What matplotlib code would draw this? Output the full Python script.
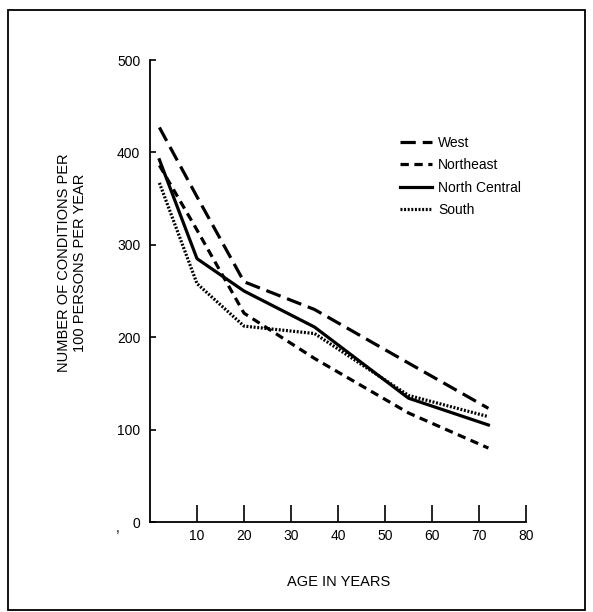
import matplotlib
matplotlib.use("Agg")
import matplotlib.pyplot as plt
from matplotlib.patches import Rectangle

plt.rcParams['font.family'] = ['Liberation Sans', 'DejaVu Sans']
plt.rcParams['lines.scale_dashes'] = False

# Data (age midpoints, conditions per 100 persons per year)
ages = [2, 10, 20, 35, 55, 72]
west = [427, 352, 260, 230, 172, 123]
northeast = [386, 316, 226, 177, 118, 80]
north_central = [392, 285, 250, 211, 134, 105]
south = [367, 258, 212, 204, 137, 114]

x_ticks = [10, 20, 30, 40, 50, 60, 70, 80]
y_ticks = [0, 100, 200, 300, 400, 500]

W, H = 593, 612
fig = plt.figure(figsize=(W / 100, H / 100), dpi=100)
ax = fig.add_axes([150 / W, 1 - 522 / H, (526 - 150) / W, (522 - 60) / H])

lw = 2.3
ax.plot(ages, west, color='black', lw=lw, linestyle=(0, (11, 5)), label='West')
ax.plot(ages, northeast, color='black', lw=lw, linestyle=(0, (6, 4)), label='Northeast')
ax.plot(ages, north_central, color='black', lw=lw, linestyle='-', label='North Central')
ax.plot(ages, south, color='black', lw=lw, linestyle=(0, (1.4, 1.2)), label='South')

ax.set_xlim(0, 80)
ax.set_ylim(0, 500)
ax.set_xticks(x_ticks)
ax.set_yticks(y_ticks)
ax.tick_params(axis='x', direction='in', length=12, width=1.2, pad=5, labelsize=10)
ax.tick_params(axis='y', direction='in', length=4, width=1.2, pad=7, labelsize=10)
for s in ['top', 'right']:
    ax.spines[s].set_visible(False)
for s in ['left', 'bottom']:
    ax.spines[s].set_linewidth(1.3)

leg = ax.legend(loc='upper left',
                bbox_to_anchor=((400 - 150) / (526 - 150), 1 - (136 - 60) / (522 - 60)),
                frameon=False, fontsize=10, handlelength=2.3, handletextpad=0.45,
                labelspacing=0.6, borderpad=0, borderaxespad=0)

fig.text(72 / W, 1 - 263 / H, 'NUMBER OF CONDITIONS PER\n100 PERSONS PER YEAR',
         rotation=90, ha='center', va='center', fontsize=10.5, linespacing=1.15)
fig.text(339 / W, 1 - 582 / H, 'AGE IN YEARS', ha='center', va='center', fontsize=10.5)
fig.text(118 / W, 1 - 528 / H, ',', ha='center', va='center', fontsize=10)

fig.patches.append(Rectangle((8 / W, 2 / H), (585 - 8) / W, (610 - 10) / H,
                             transform=fig.transFigure, fill=False, lw=1.3, ec='black'))

fig.savefig('out.png', dpi=100, facecolor='white')
